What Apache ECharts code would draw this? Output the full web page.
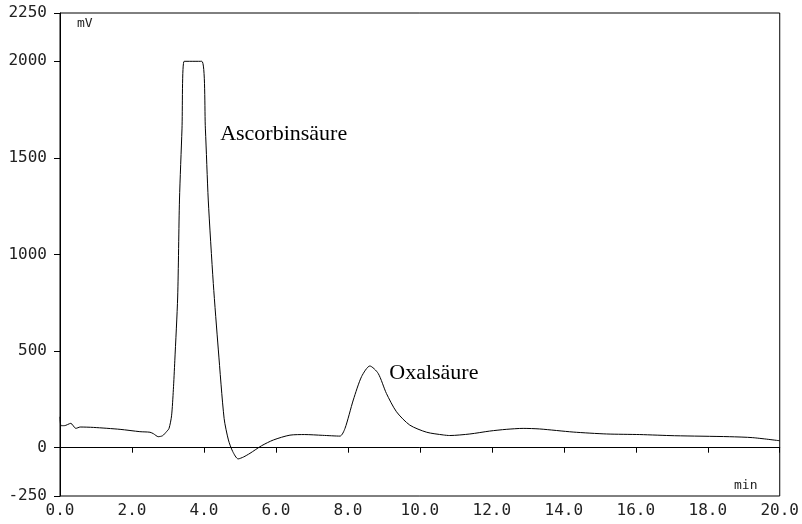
<!DOCTYPE html>
<html lang="de">
<head>
    <meta charset="UTF-8">
    <title>Chromatogramm</title>
    <script src="https://cdn.jsdelivr.net/npm/echarts@6/dist/echarts.min.js"></script>
    <style>
        html, body { margin: 0; padding: 0; background: #fff; }
    </style>
</head>
<body>
    <div id="main" style="width:802px;height:524px;"></div>

<script>
// retention time (min) and detector signal (mV)
var times = [0, 0.03, 0.12, 0.3, 0.44, 0.56, 0.93, 1.67, 2.22, 2.5, 2.6, 2.73, 2.85, 2.96,
    3.03, 3.1, 3.15, 3.19, 3.27, 3.32, 3.39, 3.45, 3.94, 4.04, 4.12, 4.26, 4.4, 4.56,
    4.68, 4.8, 4.95, 5.1, 5.28, 5.6, 5.93, 6.39, 6.8, 7.3, 7.78, 7.92, 8.15, 8.38, 8.61,
    8.84, 9.07, 9.35, 9.72, 10.19, 10.65, 10.83, 11.39, 11.94, 12.4, 12.87, 13.33,
    14.26, 15.19, 16.11, 17.08, 18.6, 19.25, 20];
var signal = [160, 114, 114, 126, 100, 107, 105, 95, 83, 80, 72, 57, 62, 83,
    100, 165, 300, 450, 780, 1282, 1650, 2000, 2000, 1650, 1282, 850, 506, 152,
    40, -20, -58, -48, -29, 10, 40, 65, 68, 64, 60, 100, 247, 368, 423,
    385, 281, 186, 117, 80, 66, 63, 71, 86, 95, 100, 97,
    81, 71, 68, 62, 57, 52, 36];

var yTicks = [-250, 0, 500, 1000, 1500, 2000, 2250];
var peakNames = ['Ascorbinsäure', 'Oxalsäure'];
var peakLabelPos = [[4.45, 1625], [9.15, 385]];

var points = times.map(function (t, i) { return [t, signal[i]]; });

var myChart = echarts.init(document.getElementById('main'));

var tickFont = {
    fontFamily: 'DejaVu Sans Mono',
    fontSize: 16,
    color: '#222'
};

myChart.setOption({
    animation: false,
    grid: {
        left: 60,
        right: 22,
        top: 13,
        bottom: 28,
        show: true,
        borderColor: '#000',
        borderWidth: 1
    },
    xAxis: {
        type: 'value',
        min: 0,
        max: 20,
        interval: 2,
        axisLine: { lineStyle: { color: '#000', width: 1 } },
        axisTick: { length: 5, lineStyle: { color: '#000' } },
        splitLine: { show: false },
        axisLabel: Object.assign({
            margin: 7,
            formatter: function (v) { return v.toFixed(1); }
        }, tickFont)
    },
    yAxis: {
        type: 'value',
        min: -250,
        max: 2250,
        axisLine: { show: true, lineStyle: { color: '#000', width: 1 } },
        axisTick: { show: true, length: 6, customValues: yTicks, lineStyle: { color: '#000' } },
        splitLine: { show: false },
        axisLabel: Object.assign({
            margin: 13,
            customValues: yTicks,
            formatter: function (v) { return String(v); }
        }, tickFont)
    },
    graphic: [
        {
            type: 'text', left: 77, top: 17,
            style: { text: 'mV', font: '13px "DejaVu Sans Mono"', fill: '#222' }
        },
        {
            type: 'text', left: 734, top: 479,
            style: { text: 'min', font: '13px "DejaVu Sans Mono"', fill: '#222' }
        }
    ],
    series: [{
        type: 'line',
        data: points,
        showSymbol: false,
        smooth: 0.25,
        lineStyle: { color: '#000', width: 1 },
        markPoint: {
            symbol: 'circle',
            symbolSize: 0,
            label: {
                show: true,
                position: 'right',
                distance: 0,
                fontFamily: 'Liberation Serif',
                fontSize: 22,
                color: '#000',
                formatter: '{b}'
            },
            data: peakNames.map(function (n, i) {
                return { name: n, coord: peakLabelPos[i] };
            })
        }
    }]
});
</script>
</body>
</html>
